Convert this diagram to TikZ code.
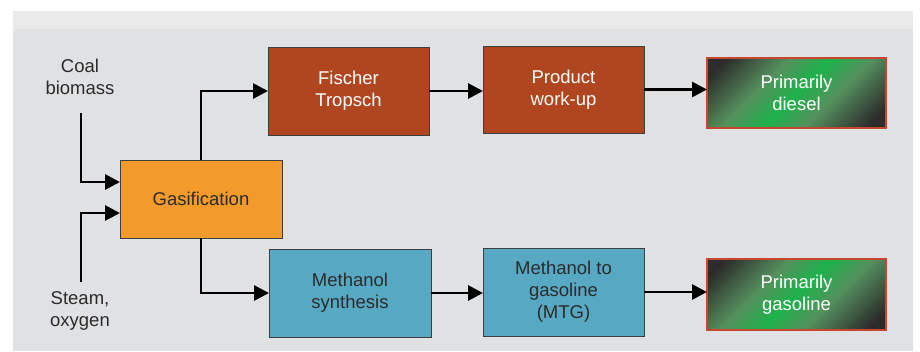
\documentclass[tikz,border=0pt]{standalone}
\usepackage{fontspec}
\setmainfont{Liberation Sans}
\usetikzlibrary{arrows.meta}
\definecolor{bgmain}{HTML}{E0E1E3}
\definecolor{bgtop}{HTML}{E9EAE9}
\definecolor{ftred}{HTML}{B0461F}
\definecolor{gasor}{HTML}{F39A2C}
\definecolor{methbl}{HTML}{57A9C3}
\definecolor{txtdk}{HTML}{2B2B2B}
\definecolor{boxln}{HTML}{3E3E3E}
\definecolor{outred}{HTML}{C8452F}
\definecolor{shdk}{HTML}{2C2C2C}
\definecolor{shmid}{HTML}{55905D}
\definecolor{shbr}{HTML}{1DB24B}
\pgfdeclarehorizontalshading{outg}{100bp}{color(0bp)=(shdk); color(20bp)=(shdk); color(38bp)=(shmid); color(50bp)=(shbr); color(62bp)=(shmid); color(80bp)=(shdk); color(100bp)=(shdk)}
\tikzset{
  procbox/.style={draw=boxln, line width=1pt, inner sep=0pt, outer sep=0pt, align=center,
    font=\fontsize{18.5}{22}\selectfont},
  outbox/.style={procbox, draw=outred, line width=2pt, shading=outg, shading angle=-45, text=white},
  flow/.style={line width=2.8pt, draw=black, -{Triangle[length=15pt,width=15pt]}},
  feedtxt/.style={align=center, text=txtdk, font=\fontsize{18.5}{22}\selectfont, inner sep=0pt}
}
\begin{document}
\begin{tikzpicture}[x=1pt,y=-1pt]
\useasboundingbox (0,0) rectangle (920,351);
\fill[white] (0,0) rectangle (920,351);
\fill[bgtop] (13,11) rectangle (913,29);
\fill[bgmain] (13,29) rectangle (913,351);

\node[procbox, fill=ftred, text=white, minimum width=161pt, minimum height=88pt] (ft) at (348.5,91) {Fischer\\Tropsch};
\node[procbox, fill=ftred, text=white, minimum width=161pt, minimum height=87pt] (pw) at (563.5,89.5) {Product\\work-up};
\node[outbox, minimum width=179pt, minimum height=70pt] (diesel) at (796.5,93) {Primarily\\diesel};
\node[procbox, fill=gasor, text=txtdk, minimum width=162pt, minimum height=78pt] (gas) at (201,199) {Gasification};
\node[procbox, fill=methbl, text=txtdk, minimum width=162pt, minimum height=88pt] (ms) at (350,293) {Methanol\\synthesis};
\node[procbox, fill=methbl, text=txtdk, minimum width=161pt, minimum height=88pt] (mtg) at (563.5,292) {Methanol to\\gasoline\\(MTG)};
\node[outbox, minimum width=179pt, minimum height=71pt] (gasoline) at (796.5,294.5) {Primarily\\gasoline};

\node[feedtxt] (coal) at (80,77) {Coal\\biomass};
\node[feedtxt] (steam) at (80,311) {Steam,\\oxygen};
\coordinate (coalstart) at (81,113);
\coordinate (steamstart) at (81,282);

\draw[flow] (coalstart) |- ([yshift=17pt]gas.west);
\draw[flow] (steamstart) |- ([yshift=-14pt]gas.west);
\draw[flow] (gas.north) |- (ft.west);
\draw[flow] (gas.south) |- (ms.west);
\draw[flow] (ft.east) -- (ft.east -| pw.west);
\draw[flow] (pw.east) -- (pw.east -| diesel.west);
\draw[flow] (ms.east) -- (ms.east -| mtg.west);
\draw[flow] (mtg.east) -- (mtg.east -| gasoline.west);
\end{tikzpicture}
\end{document}
